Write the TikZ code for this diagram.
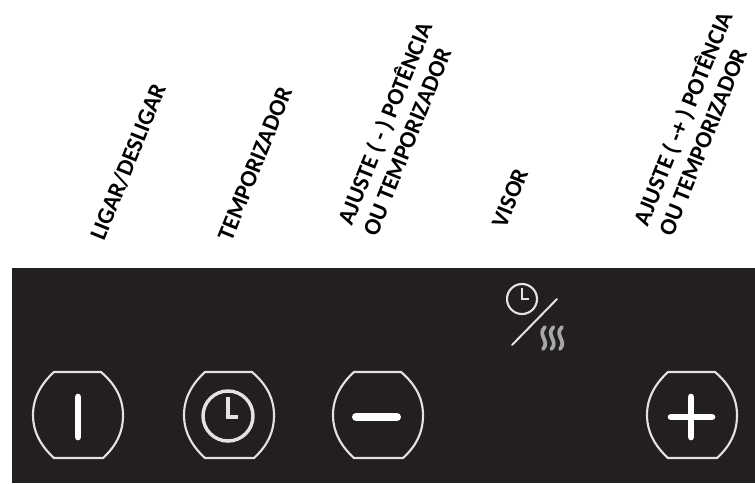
\documentclass[tikz,border=0pt]{standalone}
\usepackage{fontspec}
\setmainfont{Carlito}
\definecolor{panel}{HTML}{231F20}
\definecolor{ringc}{HTML}{E4E2E0}
\definecolor{heatc}{HTML}{A5A8A3}
\tikzset{
  lab/.style={inner sep=0pt,rotate=68,font=\bfseries\fontsize{17.8}{20.5}\selectfont,align=left,text=black,anchor=center},
  ring/.style={draw=ringc,line width=1.6pt,line join=round},
  sym/.style={draw=white,line width=5pt,line cap=round},
  clk/.style={draw=ringc,line width=2.6pt}
}
\newcommand{\btn}[1]{%
  \draw[ring] (#1+-24,-43) -- (#1+23,-43) .. controls (#1+36,-32) and (#1+45,-18) .. (#1+45,0) .. controls (#1+45,18) and (#1+38,31) .. (#1+25,43) -- (#1+-24,43) .. controls (#1+-36,32) and (#1+-45,18) .. (#1+-45,0) .. controls (#1+-45,-18) and (#1+-36,-32) .. cycle;}
\begin{document}
\begin{tikzpicture}[x=0.75pt,y=-0.75pt]
\useasboundingbox (0,0) rectangle (755,483);
\fill[white] (0,0) rectangle (755,483);
\fill[panel] (12,268) rectangle (755,483);
\begin{scope}[yshift=-311.25pt]
\btn{78}
\btn{229}
\btn{378}
\btn{692}
\end{scope}
\draw[sym] (78,397) -- (78,437);
\draw[clk] (228,416) circle (25);
\draw[draw=ringc,line width=3.4pt] (228,397) -- (228,417) -- (238,417);
\draw[sym,line width=6pt,line cap=round] (356,417) -- (397,417);
\draw[sym] (671,417) -- (712,417);
\draw[sym] (691,397) -- (691,437);
\draw[draw=ringc,line width=1.6pt] (522,299) circle (15);
\draw[draw=ringc,line width=1.6pt] (522,288) -- (522,299) -- (529,299);
\draw[draw=ringc,line width=1.5pt,line cap=round] (512,345) -- (557,299);
\foreach \wx in {543.5,552,560.5}
  \draw[draw=heatc,line width=2.8pt,line cap=round] (\wx+1.5,327) .. controls (\wx-7,335) and (\wx+7,341) .. (\wx-0.5,349);
\node[lab] (t1) at (128,162) {LIGAR/DESLIGAR};
\node[lab] (t2) at (255,164) {TEMPORIZADOR};
\node[lab] (t3) at (396,128) {AJUSTE ( - ) POTÊNCIA\\OU TEMPORIZADOR};
\node[lab] (t4) at (510,198) {VISOR};
\node[lab] (t5) at (694,123) {AJUSTE ( -+ ) POTÊNCIA\\OU TEMPORIZADOR};
\end{tikzpicture}
\end{document}
